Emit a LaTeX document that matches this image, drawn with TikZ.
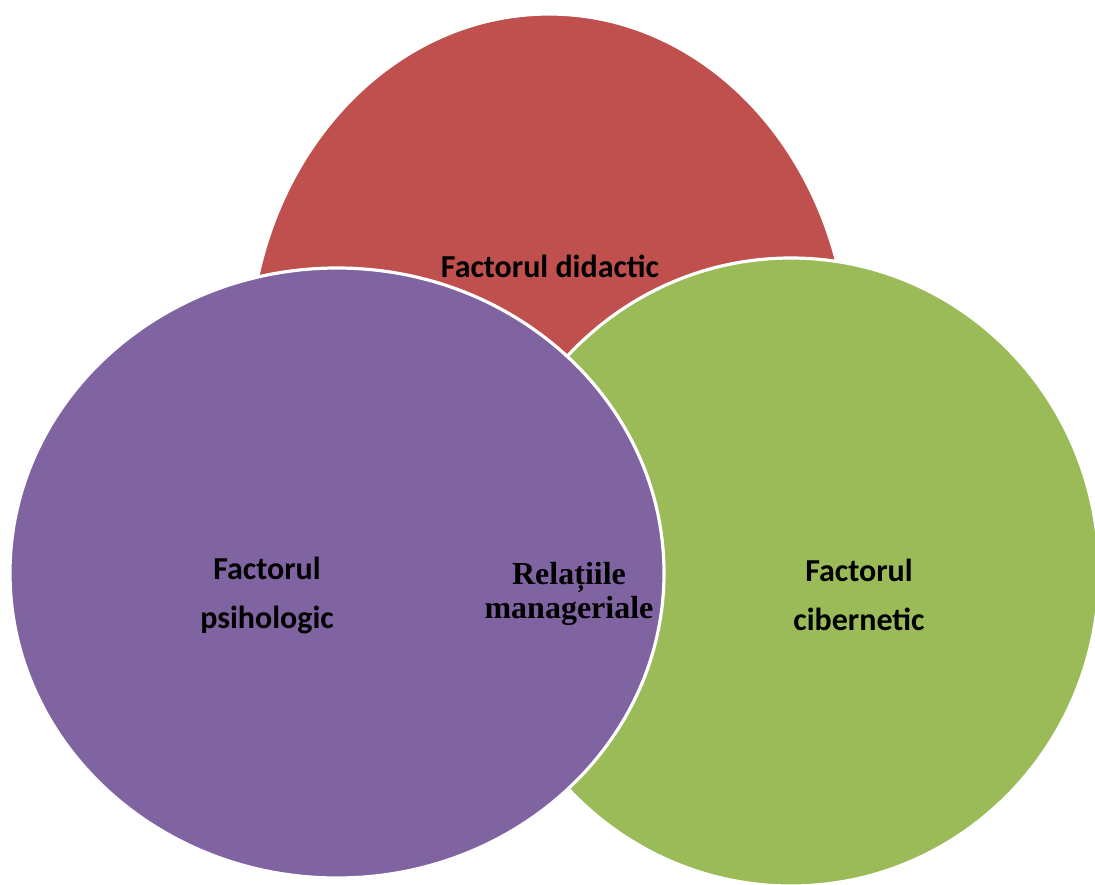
\documentclass[tikz,border=0pt]{standalone}
\usepackage{fontspec}
\setmainfont{Carlito}
\newfontfamily\relfont{Liberation Serif}
\usepackage{tikz}

\definecolor{didred}{HTML}{C0504D}
\definecolor{ciberg}{HTML}{9BBB59}
\definecolor{psihov}{HTML}{8064A2}

\tikzset{
  factor/.style={font=\fontsize{16}{24.5}\selectfont\bfseries, align=center, inner sep=0pt},
  relatii/.style={font=\relfont\fontsize{16}{17}\selectfont\bfseries, align=center, inner sep=0pt},
  zona/.style={draw=white, line width=1.6pt}
}

\begin{document}
\begin{tikzpicture}[x=0.5pt,y=-0.5pt]
\def\W{1095}\def\H{884}
\clip (0,0) rectangle (\W,\H);
\fill[white] (0,0) rectangle (\W,\H);
% the three zones, back to front
\filldraw[zona, fill=didred] (549,360) ellipse [x radius=300, y radius=346];
\filldraw[zona, fill=ciberg] (791,572) ellipse [x radius=308, y radius=314];
\filldraw[zona, fill=psihov] (337,573) ellipse [x radius=327, y radius=305];
% labels
\node[factor] (didactic) at (550,266) {Factorul didactic};
\node[factor] (psihologic) at (267,595) {Factorul\\psihologic};
\node[factor] (cibernetic) at (859,595) {Factorul\\cibernetic};
\node[relatii] (relatii) at (569,594) {Relațiile\\manageriale};
\end{tikzpicture}
\end{document}
